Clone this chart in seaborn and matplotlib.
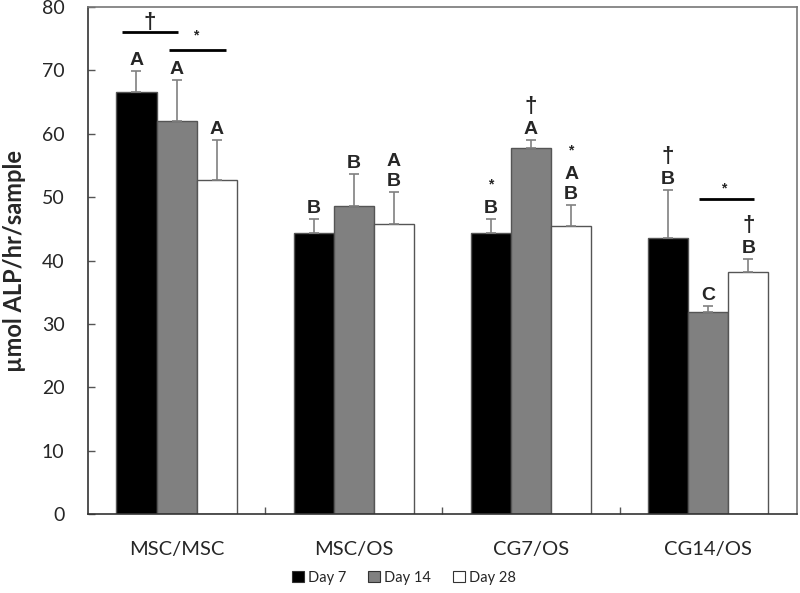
import matplotlib
matplotlib.use("Agg")
import matplotlib.pyplot as plt
import seaborn as sns
import pandas as pd
from matplotlib.patches import Patch
from matplotlib.ticker import MultipleLocator, FixedLocator

groups = ["MSC/MSC", "MSC/OS", "CG7/OS", "CG14/OS"]
days = ["Day 7", "Day 14", "Day 28"]

mean_day7 = [66.6, 44.4, 44.4, 43.6]
mean_day14 = [62.0, 48.6, 57.7, 31.9]
mean_day28 = [52.7, 45.7, 45.5, 38.2]

sd_day7 = [3.3, 2.1, 2.2, 7.5]
sd_day14 = [6.5, 5.0, 1.3, 0.9]
sd_day28 = [6.3, 5.1, 3.3, 2.1]

# letters / marks above each bar, top line first
labels_day7 = [["A"], ["B"], ["*", "B"], ["†", "B"]]
labels_day14 = [["A"], ["B"], ["†", "A"], ["C"]]
labels_day28 = [["A"], ["A", "B"], ["*", "A", "B"], ["†", "B"]]

colors = {"Day 7": "#000000", "Day 14": "#808080", "Day 28": "#ffffff"}

rows = []
for day, means, sds, labs in [
    ("Day 7", mean_day7, sd_day7, labels_day7),
    ("Day 14", mean_day14, sd_day14, labels_day14),
    ("Day 28", mean_day28, sd_day28, labels_day28),
]:
    for g, m, s, l in zip(groups, means, sds, labs):
        rows.append({"group": g, "day": day, "mean": m, "sd": s, "labels": l})
df = pd.DataFrame(rows)

sns.set_style("white")
plt.rcParams["font.family"] = ["Lato", "DejaVu Sans"]

fig = plt.figure(figsize=(8, 5.93), dpi=100)
ax = fig.add_axes([0.11, 0.133, 0.886, 0.855])

sns.barplot(
    data=df, x="group", y="mean", hue="day", order=groups, hue_order=days,
    palette=colors, errorbar=None, width=0.68, gap=0,
    edgecolor="#555555", linewidth=1, saturation=1, legend=False, ax=ax,
)

MARK = dict(ha="center", fontweight="bold", family="Liberation Sans")

# bars come in hue order, then group order
bars = ax.patches[:len(df)]
i = 0
for day in days:
    sub = df[df["day"] == day].set_index("group").loc[groups]
    for g in groups:
        b = bars[i]
        i += 1
        cx = b.get_x() + b.get_width() / 2
        m = sub.loc[g, "mean"]
        s = sub.loc[g, "sd"]
        ax.errorbar(cx, m, yerr=[[0], [s]], color="#808080", lw=1.2,
                    capsize=3.5, capthick=1.2, zorder=3)
        off = 6
        for txt in reversed(sub.loc[g, "labels"]):
            if txt == "*":
                off += 4
                ax.annotate(txt, (cx, m + s), xytext=(0, off * 0.72),
                            textcoords="offset points", va="baseline",
                            fontsize=10, **MARK)
            elif txt == "†":
                off += 2
                ax.annotate(txt, (cx, m + s), xytext=(0, off * 0.72),
                            textcoords="offset points", va="baseline",
                            fontsize=16, **MARK)
            else:
                ax.annotate(txt, (cx, m + s), xytext=(0, off * 0.72),
                            textcoords="offset points", va="baseline",
                            fontsize=14, **MARK)
            off += 20

# significance lines
for x0, x1, y in [(-0.308, 0.008, 76.0), (-0.042, 0.28, 73.3), (2.946, 3.257, 49.8)]:
    ax.plot([x0, x1], [y, y], color="black", lw=2, solid_capstyle="butt")
ax.text(-0.15, 77.6, "†", va="center", fontsize=16, **MARK)
ax.text(0.11, 75.6, "*", va="center", fontsize=10, **MARK)
ax.text(3.09, 51.4, "*", va="center", fontsize=10, **MARK)

ax.set_xlim(-0.5, 3.5)
ax.set_ylim(0, 80)
ax.yaxis.set_major_locator(MultipleLocator(10))
ax.tick_params(axis="y", direction="in", length=5, width=1, pad=17,
               labelsize=14, color="#555555", left=True)
ax.xaxis.set_minor_locator(FixedLocator([0.5, 1.5, 2.5]))
ax.tick_params(axis="x", which="major", length=0, pad=19, labelsize=14.5)
ax.tick_params(axis="x", which="minor", direction="in", length=5, width=1,
               color="#555555", bottom=True)
ax.set_xlabel("")
ax.set_ylabel("µmol ALP/hr/sample", fontsize=17, fontweight="bold")
ax.yaxis.set_label_coords(-0.088, 0.5)
for side in ["left", "bottom"]:
    ax.spines[side].set_color("#333333")
for side in ["top", "right"]:
    ax.spines[side].set_color("#777777")
for sp in ax.spines.values():
    sp.set_linewidth(1.2)

handles = [Patch(facecolor=colors[d], edgecolor="#333333", linewidth=0.8) for d in days]
fig.legend(handles, days, loc="center", bbox_to_anchor=(0.505, 0.026), ncol=3,
           frameon=False, fontsize=10.5, handlelength=0.8, handleheight=0.8,
           handletextpad=0.3, columnspacing=1.5)

fig.savefig("out.png", dpi=100)
